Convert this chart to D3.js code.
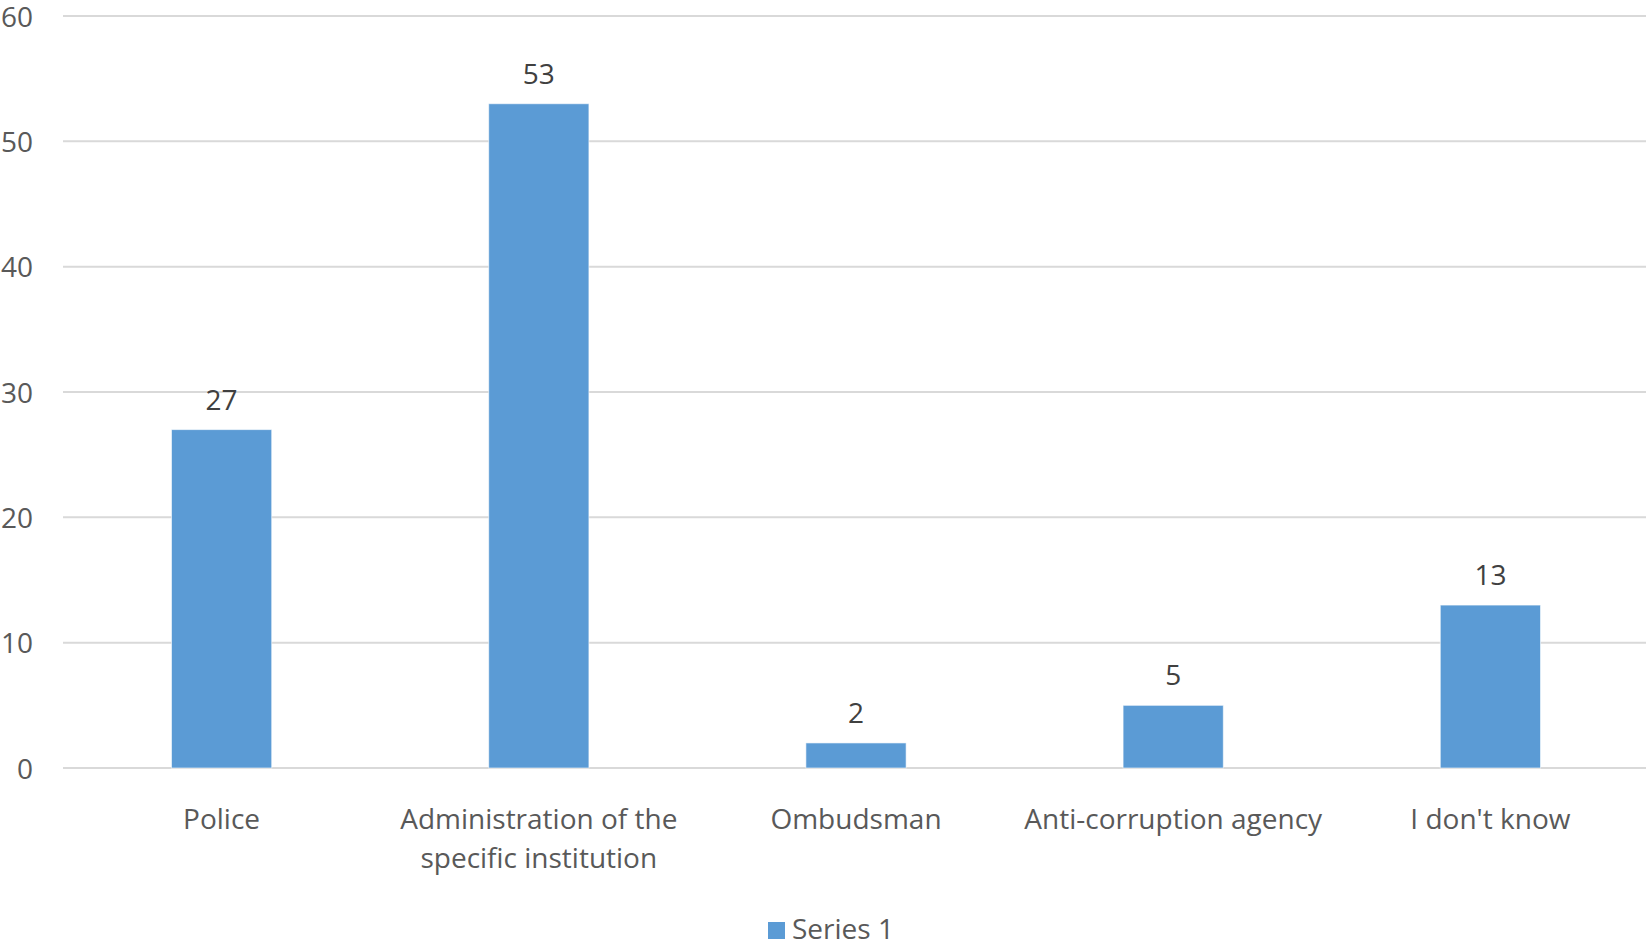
<!DOCTYPE html>
<html>
<head>
<meta charset="utf-8">
<script src="https://cdn.jsdelivr.net/npm/d3@7"></script>
<style>
html,body{margin:0;padding:0;background:#fff;}
svg{display:block;}
text{font-family:"Open Sans",sans-serif;}
</style>
</head>
<body>
<svg id="chart" width="1646" height="947"></svg>
<script>
const categories = ["Police", "Administration of the specific institution", "Ombudsman", "Anti-corruption agency", "I don't know"];
const categoryLines = [["Police"], ["Administration of the", "specific institution"], ["Ombudsman"], ["Anti-corruption agency"], ["I don't know"]];
const values = [27, 53, 2, 5, 13];
const yTicks = [0, 10, 20, 30, 40, 50, 60];
const seriesName = "Series 1";

const svg = d3.select("#chart");
const x = d3.scaleBand().domain(categories).range([63, 1649]).paddingInner(0.684).paddingOuter(0.342);
const y = d3.scaleLinear().domain([0, 60]).range([768, 16]);

const fs = 28;
// gridlines
svg.append("g").selectAll("line").data(yTicks).join("line")
  .attr("x1", 63).attr("x2", 1646)
  .attr("y1", d => y(d)).attr("y2", d => y(d))
  .attr("stroke", "#d9d9d9").attr("stroke-width", 2);

// y tick labels
const yAxis = d3.axisLeft(y).tickValues(yTicks).tickSize(0).tickPadding(0);
const ga = svg.append("g").attr("transform", "translate(33,0)").call(yAxis);
ga.select(".domain").remove();
ga.selectAll("text").attr("font-size", fs).attr("fill", "#595959").attr("font-family", "Open Sans, sans-serif").attr("dy", "0.36em");

// bars
svg.append("g").selectAll("rect").data(values).join("rect")
  .attr("x", (d, i) => x(categories[i]))
  .attr("width", x.bandwidth())
  .attr("y", d => y(d))
  .attr("height", d => y(0) - y(d))
  .attr("fill", "#5b9bd5")
  .attr("stroke", "#ffffff").attr("stroke-opacity", 0.6).attr("stroke-width", 1);

// value labels
svg.append("g").selectAll("text").data(values).join("text")
  .attr("x", (d, i) => x(categories[i]) + x.bandwidth() / 2)
  .attr("y", d => y(d) - 20)
  .attr("text-anchor", "middle")
  .attr("font-size", fs).attr("fill", "#404040")
  .text(d => d);

// category labels
const cl = svg.append("g").selectAll("text").data(categoryLines).join("text")
  .attr("text-anchor", "middle")
  .attr("font-size", fs).attr("fill", "#595959")
  .attr("x", (d, i) => x(categories[i]) + x.bandwidth() / 2)
  .attr("y", 829);
cl.selectAll("tspan").data(d => d).join("tspan")
  .attr("x", function() { return d3.select(this.parentNode).attr("x"); })
  .attr("dy", (d, i) => i === 0 ? 0 : 39)
  .text(d => d);

// legend
const lg = svg.append("g");
lg.append("rect").attr("x", 768).attr("y", 922).attr("width", 17).attr("height", 17).attr("fill", "#5b9bd5");
lg.append("text").attr("x", 792).attr("y", 939).attr("font-size", fs).attr("fill", "#595959").text(seriesName);
</script>
</body>
</html>
